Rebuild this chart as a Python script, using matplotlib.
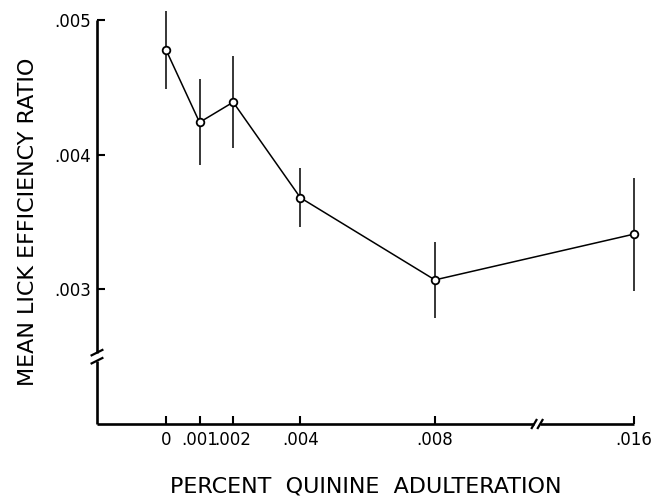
import matplotlib
matplotlib.use("Agg")
import matplotlib.pyplot as plt

# Data
quinine = [0.0, 0.001, 0.002, 0.004, 0.008, 0.016]
tick_labels = ["0", ".001", ".002", ".004", ".008", ".016"]
ratio = [0.00478, 0.00424, 0.00439, 0.00368, 0.00307, 0.00341]
err = [0.00029, 0.00032, 0.00034, 0.00022, 0.00028, 0.00042]
y_ticks = [0.003, 0.004, 0.005]
y_tick_labels = [".003", ".004", ".005"]

# broken x axis: values beyond the break are compressed
X_BREAK = 0.008
COMPRESS = 0.74
def xpos(v):
    return v if v <= X_BREAK else X_BREAK + (v - X_BREAK) * COMPRESS

xp = [xpos(v) for v in quinine]

fig = plt.figure(figsize=(6.59, 4.98), dpi=100)
ax = fig.add_axes([0.1472, 0.1486, 0.8148, 0.8112])
x0, x1 = -0.00205, xpos(0.016)
y0, y1 = 0.002, 0.005
ax.set_xlim(x0, x1)
ax.set_ylim(y0, y1)

for s in ax.spines.values():
    s.set_visible(False)

lw_sp = 1.9
# y axis with break
yb_lo, yb_hi = 0.00247, 0.00253
ax.plot([x0, x0], [y0, yb_lo], color="black", lw=lw_sp, clip_on=False, solid_capstyle="butt")
ax.plot([x0, x0], [yb_hi, y1], color="black", lw=lw_sp, clip_on=False, solid_capstyle="butt")
dx = 0.00016
for yy in (yb_lo, yb_hi):
    ax.plot([x0 - dx, x0 + dx], [yy - 0.00002, yy + 0.00002], color="black", lw=1.6, clip_on=False)
# x axis with break
xb = 0.01104
xb_lo, xb_hi = xb - 0.00009, xb + 0.00009
ax.plot([x0, xb_lo], [y0, y0], color="black", lw=lw_sp, clip_on=False, solid_capstyle="butt")
ax.plot([xb_hi, x1], [y0, y0], color="black", lw=lw_sp, clip_on=False, solid_capstyle="butt")
dy = 0.00003
for xx in (xb_lo, xb_hi):
    ax.plot([xx - 0.00007, xx + 0.00007], [y0 - dy, y0 + dy], color="black", lw=1.6, clip_on=False)

ax.set_xticks(xp)
ax.set_xticklabels(tick_labels)
ax.set_yticks(y_ticks)
ax.set_yticklabels(y_tick_labels)
ax.tick_params(axis="x", direction="in", length=6, width=1.5, pad=5, labelsize=12)
ax.tick_params(axis="y", direction="in", length=6, width=1.5, pad=4, labelsize=12)

ax.errorbar(xp, ratio, yerr=err, fmt="-", color="black", lw=1.1, elinewidth=1.1,
            capsize=0, clip_on=False, zorder=3)
ax.plot(xp, ratio, "o", ms=5.5, mfc="white", mec="black", mew=1.3, clip_on=False, zorder=4)

ax.set_xlabel("PERCENT  QUININE  ADULTERATION", fontsize=16, labelpad=20)
ax.set_ylabel("MEAN LICK EFFICIENCY RATIO", fontsize=16, labelpad=12)

fig.savefig("out.png", dpi=100)
